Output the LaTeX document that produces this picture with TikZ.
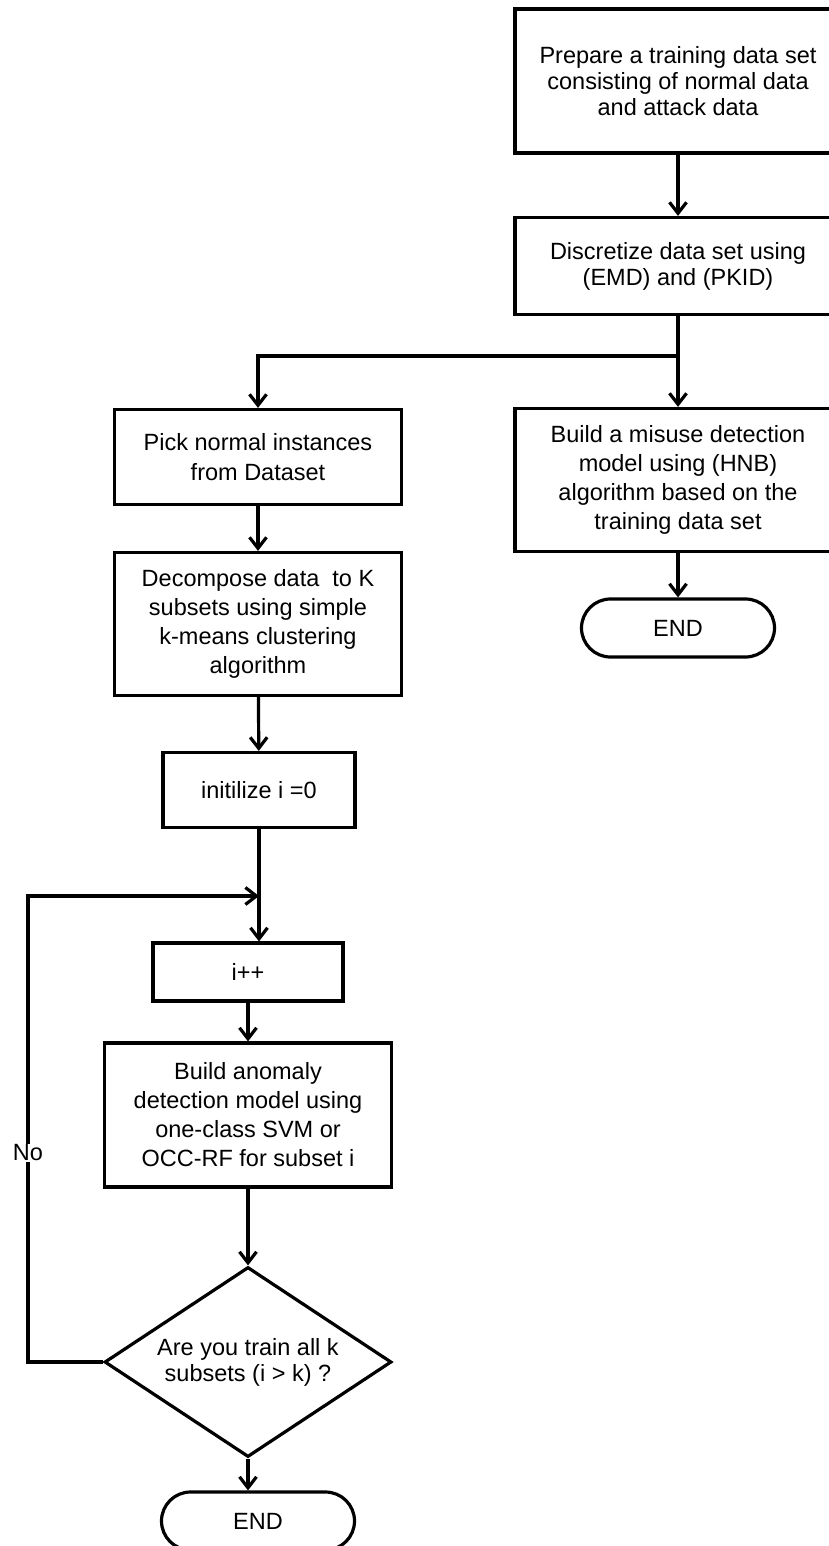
\documentclass[tikz,border=0pt]{standalone}
\usepackage{fontspec}
\setmainfont{Liberation Sans}
\usetikzlibrary{positioning,shapes.geometric,arrows.meta}

\begin{document}
\begin{tikzpicture}[x=1pt,y=-1pt,line width=3.2pt,
      box/.style={draw,align=center,font=\fontsize{23.5}{26}\selectfont,inner sep=0pt},
      term/.style={box,rounded corners=29pt,minimum width=193pt,minimum height=58pt},
      decide/.style={box,diamond,shape aspect=2,minimum width=287pt,minimum height=190pt},
      flow/.style={-{Straight Barb[length=11pt,width=17pt]}}]
    \useasboundingbox[fill=white] (0,0) rectangle (829,1546);
    % right column
    \node[box,minimum width=326pt,minimum height=144pt] (prep) at (678,81) {Prepare a training data set\\consisting of normal data\\and attack data};
    \node[box,minimum width=326pt,minimum height=97pt] (disc) at (678,266) {Discretize data set using\\(EMD) and (PKID)};
    \node[box,minimum width=326pt,minimum height=143pt,font=\fontsize{23.5}{29}\selectfont] (misuse) at (678,480) {Build a misuse detection\\model using (HNB)\\algorithm based on the\\training data set};
    \node[term] (endr) at (678,628) {END};
    % left column
    \node[box,minimum width=287pt,minimum height=95pt,font=\fontsize{23.5}{30}\selectfont] (pick) at (258,457) {Pick normal instances\\from Dataset};
    \node[box,minimum width=287pt,minimum height=143pt,font=\fontsize{23.5}{29}\selectfont] (decomp) at (258,624) {Decompose data\ \ to K\\subsets using simple\\k-means clustering\\algorithm};
    \node[box,minimum width=192pt,minimum height=75pt] (init) at (259,790) {initilize i =0};
    \node[box,minimum width=190pt,minimum height=58pt] (inc) at (248,972) {i++};
    \node[box,minimum width=287pt,minimum height=144pt,font=\fontsize{23.5}{29}\selectfont] (anom) at (248,1115) {Build anomaly\\detection model using\\one-class SVM or\\OCC-RF for subset i};
    \node[decide] (check) at (248,1362) {Are you train all k\\subsets (i > k) ?};
    \node[term] (endl) at (258,1521) {END};
    \coordinate (split) at (678,356);
    \coordinate (join) at (259,896);
    % connectors
    \draw[flow] (prep) -- (disc);
    \draw (disc) -- (split);
    \draw[flow] (split) -- (misuse);
    \draw[flow] (split) -| (pick);
    \draw[flow] (misuse) -- (endr);
    \draw[flow] (pick) -- (decomp);
    \draw[flow] (decomp) -- (init);
    \draw (init) -- (join);
    \draw[flow] (join) -- (join |- inc.north);
    \draw[flow] (inc) -- (anom);
    \draw[flow] (anom) -- (check);
    \draw[flow] (check.south) -- (check.south |- endl.north);
    \draw[flow] (check.west) -| (28,896) -- (join);
    \node[fill=white,inner sep=1pt,font=\fontsize{23.5}{26}\selectfont] (no) at (28,1153) {No};
\end{tikzpicture}
\end{document}
